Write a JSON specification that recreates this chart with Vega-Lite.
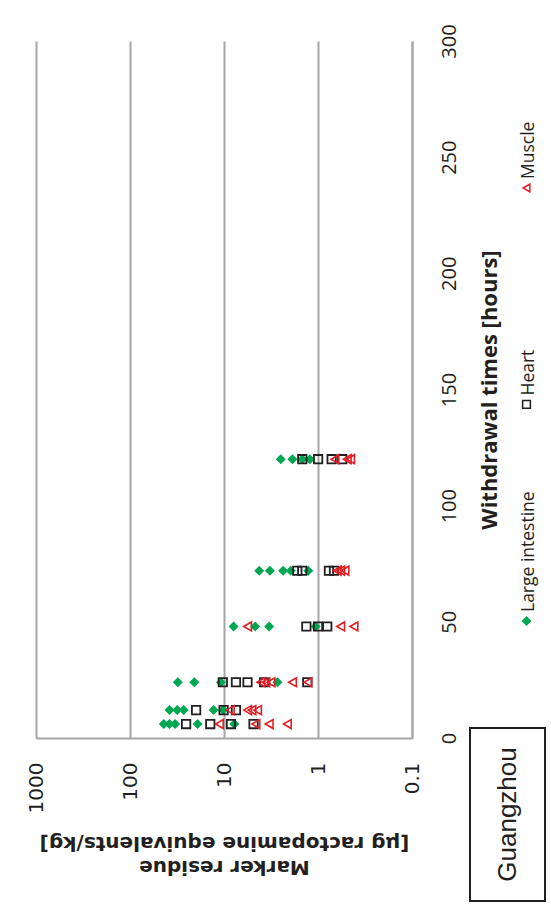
{
  "$schema": "https://vega.github.io/schema/vega-lite/v6.json",
  "background": "white",
  "padding": {"left": 26, "top": 23, "right": 5, "bottom": 5},
  "bounds": "flush",
  "spacing": 58,
  "config": {"font": "DejaVu Sans", "concat": {"spacing": 0}},
  "datasets": {
    "residues": [
      {"tissue": "Large intestine", "hours": 6, "residue": 43.7},
      {"tissue": "Large intestine", "hours": 6, "residue": 38.0},
      {"tissue": "Large intestine", "hours": 6, "residue": 33.1},
      {"tissue": "Large intestine", "hours": 6, "residue": 19.1},
      {"tissue": "Large intestine", "hours": 6, "residue": 7.78},
      {"tissue": "Large intestine", "hours": 12, "residue": 38.0},
      {"tissue": "Large intestine", "hours": 12, "residue": 31.5},
      {"tissue": "Large intestine", "hours": 12, "residue": 26.8},
      {"tissue": "Large intestine", "hours": 12, "residue": 12.9},
      {"tissue": "Large intestine", "hours": 12, "residue": 10.2},
      {"tissue": "Large intestine", "hours": 24, "residue": 31.0},
      {"tissue": "Large intestine", "hours": 24, "residue": 20.7},
      {"tissue": "Large intestine", "hours": 24, "residue": 10.8},
      {"tissue": "Large intestine", "hours": 24, "residue": 2.70},
      {"tissue": "Large intestine", "hours": 48, "residue": 7.91},
      {"tissue": "Large intestine", "hours": 48, "residue": 4.66},
      {"tissue": "Large intestine", "hours": 48, "residue": 3.31},
      {"tissue": "Large intestine", "hours": 48, "residue": 1.06},
      {"tissue": "Large intestine", "hours": 72, "residue": 4.22},
      {"tissue": "Large intestine", "hours": 72, "residue": 3.25},
      {"tissue": "Large intestine", "hours": 72, "residue": 2.35},
      {"tissue": "Large intestine", "hours": 72, "residue": 1.95},
      {"tissue": "Large intestine", "hours": 72, "residue": 1.27},
      {"tissue": "Large intestine", "hours": 120, "residue": 2.49},
      {"tissue": "Large intestine", "hours": 120, "residue": 1.87},
      {"tissue": "Large intestine", "hours": 120, "residue": 1.47},
      {"tissue": "Large intestine", "hours": 120, "residue": 1.22},
      {"tissue": "Heart", "hours": 6, "residue": 25.3},
      {"tissue": "Heart", "hours": 6, "residue": 14.0},
      {"tissue": "Heart", "hours": 6, "residue": 8.43},
      {"tissue": "Heart", "hours": 6, "residue": 4.85},
      {"tissue": "Heart", "hours": 12, "residue": 19.8},
      {"tissue": "Heart", "hours": 12, "residue": 10.1},
      {"tissue": "Heart", "hours": 12, "residue": 7.46},
      {"tissue": "Heart", "hours": 24, "residue": 10.3},
      {"tissue": "Heart", "hours": 24, "residue": 7.46},
      {"tissue": "Heart", "hours": 24, "residue": 5.62},
      {"tissue": "Heart", "hours": 24, "residue": 3.74},
      {"tissue": "Heart", "hours": 24, "residue": 1.30},
      {"tissue": "Heart", "hours": 48, "residue": 1.33},
      {"tissue": "Heart", "hours": 48, "residue": 1.0},
      {"tissue": "Heart", "hours": 48, "residue": 0.797},
      {"tissue": "Heart", "hours": 72, "residue": 1.66},
      {"tissue": "Heart", "hours": 72, "residue": 1.47},
      {"tissue": "Heart", "hours": 72, "residue": 0.765},
      {"tissue": "Heart", "hours": 72, "residue": 0.676},
      {"tissue": "Heart", "hours": 120, "residue": 1.47},
      {"tissue": "Heart", "hours": 120, "residue": 0.997},
      {"tissue": "Heart", "hours": 120, "residue": 0.716},
      {"tissue": "Heart", "hours": 120, "residue": 0.552},
      {"tissue": "Muscle", "hours": 6, "residue": 11.2},
      {"tissue": "Muscle", "hours": 6, "residue": 4.58},
      {"tissue": "Muscle", "hours": 6, "residue": 3.31},
      {"tissue": "Muscle", "hours": 6, "residue": 2.12},
      {"tissue": "Muscle", "hours": 12, "residue": 8.58},
      {"tissue": "Muscle", "hours": 12, "residue": 5.62},
      {"tissue": "Muscle", "hours": 12, "residue": 5.05},
      {"tissue": "Muscle", "hours": 12, "residue": 4.40},
      {"tissue": "Muscle", "hours": 24, "residue": 4.05},
      {"tissue": "Muscle", "hours": 24, "residue": 3.59},
      {"tissue": "Muscle", "hours": 24, "residue": 3.17},
      {"tissue": "Muscle", "hours": 24, "residue": 1.87},
      {"tissue": "Muscle", "hours": 24, "residue": 1.28},
      {"tissue": "Muscle", "hours": 48, "residue": 5.62},
      {"tissue": "Muscle", "hours": 48, "residue": 0.574},
      {"tissue": "Muscle", "hours": 48, "residue": 0.415},
      {"tissue": "Muscle", "hours": 72, "residue": 0.624},
      {"tissue": "Muscle", "hours": 72, "residue": 0.574},
      {"tissue": "Muscle", "hours": 72, "residue": 0.517},
      {"tissue": "Muscle", "hours": 120, "residue": 0.660},
      {"tissue": "Muscle", "hours": 120, "residue": 0.489},
      {"tissue": "Muscle", "hours": 120, "residue": 0.450}
    ],
    "legendItems": [
      {"tissue": "Muscle"},
      {"tissue": "Heart"},
      {"tissue": "Large intestine"}
    ],
    "place": [{"label": "Guangzhou"}]
  },
  "hconcat": [
    {
      "width": 376,
      "height": 697,
      "view": {"stroke": null},
      "data": {"name": "residues"},
      "encoding": {
        "x": {
          "field": "residue",
          "type": "quantitative",
          "scale": {"type": "log", "domain": [0.1, 1000], "reverse": true, "nice": false},
          "axis": {
            "values": [0.1, 1, 10, 100, 1000],
            "format": "~g",
            "grid": true,
            "gridColor": "#a6a6a6",
            "gridWidth": 2,
            "domain": true,
            "domainColor": "#a6a6a6",
            "domainWidth": 2,
            "ticks": false,
            "tickSize": 0,
            "labelAngle": 270,
            "labelAlign": "right",
            "labelBaseline": "middle",
            "labelFont": "DejaVu Sans",
            "labelFontSize": 20,
            "labelColor": "#231f20",
            "labelPadding": 24,
            "title": ["Marker residue", "[µg ractopamine equivalents/kg]"],
            "titleAngle": 180,
            "titleBaseline": "bottom",
            "titleFont": "DejaVu Sans",
            "titleFontSize": 20,
            "titleFontWeight": "bold",
            "titleColor": "#231f20",
            "titleLineHeight": 24,
            "titlePadding": 44
          }
        },
        "y": {
          "field": "hours",
          "type": "quantitative",
          "scale": {"domain": [0, 300], "nice": false},
          "axis": {
            "orient": "right",
            "values": [0, 50, 100, 150, 200, 250, 300],
            "grid": false,
            "domain": true,
            "domainColor": "#a6a6a6",
            "domainWidth": 2,
            "ticks": false,
            "tickSize": 0,
            "labelAngle": 270,
            "labelAlign": "center",
            "labelBaseline": "top",
            "labelFont": "Liberation Sans Narrow, Open Sans",
            "labelFontSize": 20,
            "labelColor": "#231f20",
            "labelPadding": 27,
            "title": "Withdrawal times [hours]",
            "titleAngle": 270,
            "titleBaseline": "top",
            "titleFont": "Liberation Sans Narrow, Open Sans",
            "titleFontSize": 22,
            "titleFontWeight": "bold",
            "titleColor": "#231f20",
            "titlePadding": 20
          }
        }
      },
      "layer": [
        {
          "transform": [{"filter": "datum.tissue === 'Large intestine'"}],
          "mark": {"type": "point", "shape": "diamond", "filled": true, "color": "#00a651", "size": 100, "opacity": 1}
        },
        {
          "transform": [{"filter": "datum.tissue === 'Heart'"}],
          "mark": {"type": "point", "shape": "square", "filled": false, "color": "#231f20", "size": 70, "strokeWidth": 1.8, "opacity": 1}
        },
        {
          "transform": [{"filter": "datum.tissue === 'Muscle'"}],
          "mark": {"type": "point", "shape": "triangle-left", "filled": false, "color": "#e31e24", "size": 80, "strokeWidth": 1.6, "opacity": 1}
        }
      ]
    },
    {
      "vconcat": [
        {
          "width": 75,
          "height": 687,
          "view": {"stroke": null},
          "data": {"name": "legendItems"},
          "encoding": {
            "y": {
              "field": "tissue",
              "type": "nominal",
              "sort": ["Muscle", "Heart", "Large intestine"],
              "scale": {"type": "point", "padding": 0.5866, "align": 0.5787},
              "axis": null
            }
          },
          "layer": [
            {
              "mark": {"type": "point", "filled": true, "opacity": 1, "size": 60, "xOffset": 19},
              "encoding": {
                "shape": {"field": "tissue", "type": "nominal", "scale": {"domain": ["Large intestine", "Heart", "Muscle"], "range": ["diamond", "square", "triangle-left"]}, "legend": null},
                "fill": {"field": "tissue", "type": "nominal", "scale": {"domain": ["Large intestine", "Heart", "Muscle"], "range": ["#00a651", "#ffffff", "#ffffff"]}, "legend": null},
                "stroke": {"field": "tissue", "type": "nominal", "scale": {"domain": ["Large intestine", "Heart", "Muscle"], "range": ["#00a651", "#231f20", "#e31e24"]}, "legend": null},
                "strokeWidth": {"value": 1.5}
              }
            },
            {
              "mark": {"type": "text", "angle": 270, "align": "left", "baseline": "middle", "dx": 9, "xOffset": 21, "font": "Liberation Sans Narrow, Open Sans", "fontSize": 17.5, "color": "#231f20"},
              "encoding": {"text": {"field": "tissue", "type": "nominal"}}
            }
          ]
        },
        {
          "width": 75,
          "height": 173,
          "view": {"stroke": "#231f20", "strokeWidth": 2},
          "data": {"name": "place"},
          "mark": {"type": "text", "angle": 270, "align": "center", "baseline": "middle", "font": "Liberation Sans, Open Sans", "fontSize": 26, "color": "#231f20"},
          "encoding": {"text": {"field": "label", "type": "nominal"}}
        }
      ],
      "spacing": 0,
      "bounds": "flush"
    }
  ]
}
